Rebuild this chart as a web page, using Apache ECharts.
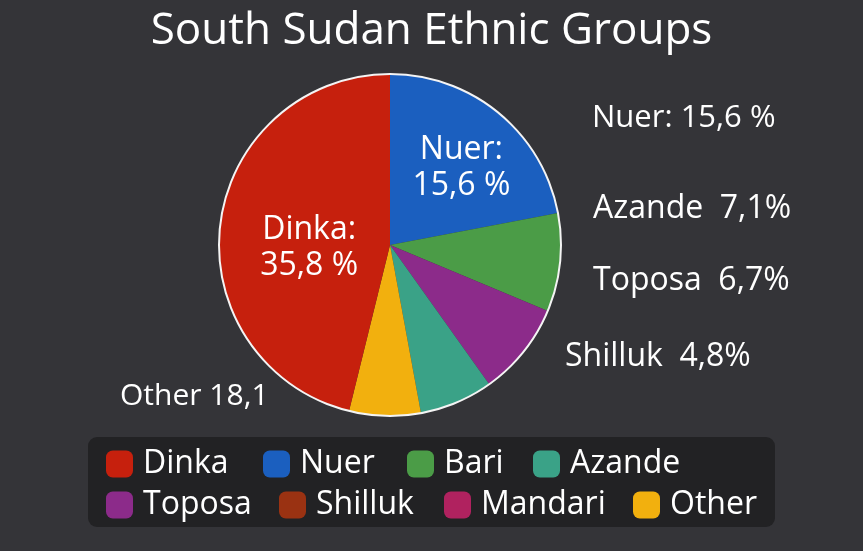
<!DOCTYPE html>
<html>
<head>
<meta charset="utf-8">
<script src="https://cdn.jsdelivr.net/npm/echarts@6/dist/echarts.min.js"></script>
<style>
html,body{margin:0;padding:0;background:#343438;}
#chart{width:863px;height:551px;}
</style>
</head>
<body>
<div id="chart"></div>
<script>
// ---- data ----
var titleText = 'South Sudan Ethnic Groups';
// slices as drawn, clockwise from 12 o'clock
var sliceNames  = ['Nuer', 'Bari', 'Toposa', 'Azande', 'Other', 'Dinka', 'Shilluk', 'Mandari'];
var sliceValues = [22.0, 9.3, 8.85, 6.95, 6.75, 46.15, 0, 0];
var sliceColors = ['#1b5fbf', '#4b9c47', '#8c2b8a', '#3aa287', '#f2b00e', '#c6200d', '#9a3212', '#b0225f'];
// labels printed inside the slices
var insideLabels = { 'Nuer': 'Nuer:\n15,6 %', 'Dinka': 'Dinka:\n35,8 %' };
// free-standing annotations beside the pie
var outerLabels = ['Nuer: 15,6 %', 'Azande  7,1%', 'Toposa  6,7%', 'Shilluk  4,8%', 'Other 18,1'];
// legend order
var legendRow1 = ['Dinka', 'Nuer', 'Bari', 'Azande'];
var legendRow2 = ['Toposa', 'Shilluk', 'Mandari', 'Other'];

// ---- layout ----
var FONT = 'Open Sans';
var legendX1 = [106, 263, 407, 533];
var legendX2 = [106, 279, 444, 633];
var legendTop1 = 448, legendTop2 = 489;
var outerPos = [[592, 118], [593, 209], [593, 281], [565, 357], [120, 396]];
var outerSize = [31, 32, 32, 32, 30];
var labelOffsets = { 'Nuer': [15, -9], 'Dinka': [7, 14] };

var chart = echarts.init(document.getElementById('chart'), null, {renderer: 'canvas'});

var pieData = sliceNames.map(function (n, i) {
  var lbl = insideLabels[n];
  return {
    name: n,
    value: sliceValues[i],
    itemStyle: { color: sliceColors[i] },
    label: lbl ? { show: true, offset: labelOffsets[n] } : { show: false }
  };
});

function makeLegend(name, x, y) {
  return {
    left: x, top: y, orient: 'horizontal', padding: 0,
    data: [name],
    icon: 'roundRect',
    itemWidth: 27, itemHeight: 27, itemGap: 0,
    selectedMode: false,
    textStyle: { color: '#ffffff', fontSize: 32, fontFamily: FONT, lineHeight: 32, padding: [0, 0, 0, 5] }
  };
}
var legends = [];
legendRow1.forEach(function (n, i) { legends.push(makeLegend(n, legendX1[i], legendTop1)); });
legendRow2.forEach(function (n, i) { legends.push(makeLegend(n, legendX2[i], legendTop2)); });

var graphics = [{
  type: 'rect', z: -1, silent: true,
  shape: { x: 88, y: 437, width: 687, height: 90, r: 9 },
  style: { fill: '#222224' }
}];
outerLabels.forEach(function (t, i) {
  graphics.push({
    type: 'text', silent: true,
    x: outerPos[i][0], y: outerPos[i][1],
    style: { text: t, fill: '#ffffff', font: outerSize[i] + 'px "' + FONT + '"', align: 'left', verticalAlign: 'middle' }
  });
});

chart.setOption({
  backgroundColor: '#343438',
  animation: false,
  title: {
    text: titleText, left: 'center', top: 4,
    textStyle: { color: '#ffffff', fontSize: 44, fontWeight: 'normal', fontFamily: FONT }
  },
  legend: legends,
  graphic: graphics,
  series: [{
    type: 'pie',
    center: [390, 245],
    radius: [0, 171],
    startAngle: 90,
    clockwise: true,
    minAngle: 0,
    avoidLabelOverlap: false,
    itemStyle: { borderWidth: 0 },
    label: {
      position: 'inside',
      color: '#ffffff',
      fontSize: 32,
      fontFamily: FONT,
      lineHeight: 36,
      align: 'center',
      formatter: function (p) { return insideLabels[p.name] || ''; }
    },
    labelLine: { show: false },
    emphasis: { disabled: true },
    data: pieData
  }, {
    type: 'pie',
    center: [390, 245],
    radius: [0, 171],
    silent: true,
    label: { show: false },
    labelLine: { show: false },
    itemStyle: { color: 'rgba(0,0,0,0)', borderColor: '#f4f4f4', borderWidth: 2 },
    emphasis: { disabled: true },
    data: [{ name: '_outline', value: 1 }]
  }]
});
</script>
</body>
</html>
